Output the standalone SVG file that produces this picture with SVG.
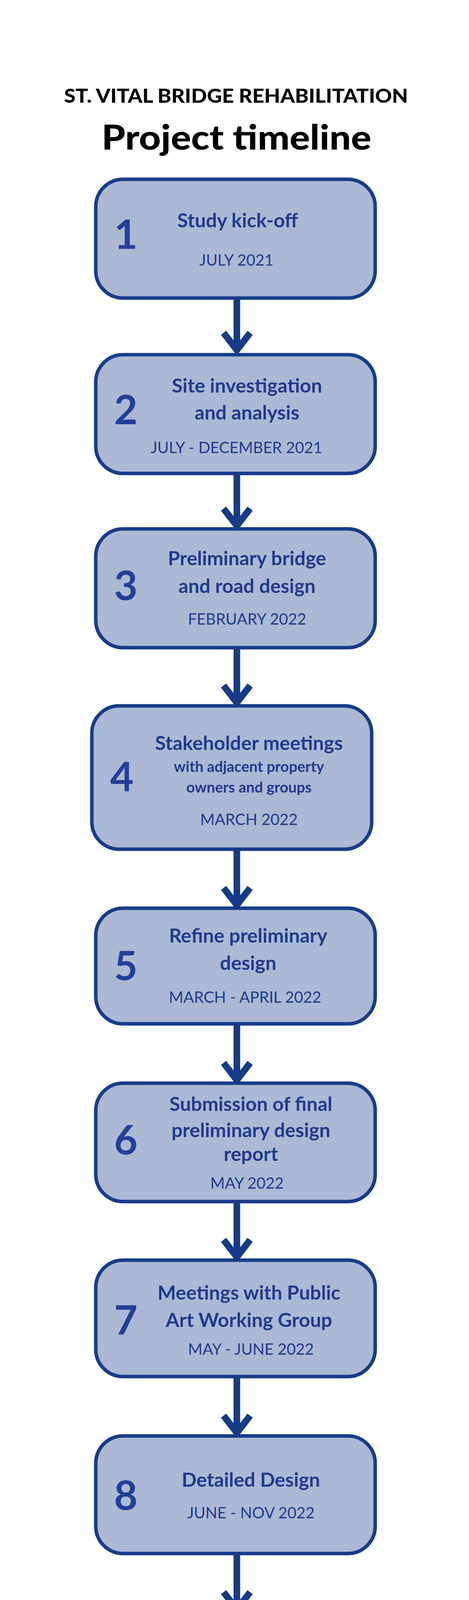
<svg xmlns="http://www.w3.org/2000/svg" width="1200" height="5100" viewBox="0 0 1200 5100">
<style>
.box{fill:#abb9d4;stroke:#173c8a;stroke-width:9}
.num{font-family:Lato,"Noto Sans",sans-serif;font-weight:700;font-size:104px;fill:#223f99;text-anchor:middle}
.t{font-family:Lato,"Noto Sans",sans-serif;font-weight:700;font-size:50px;fill:#1f3a8c;text-anchor:middle}
.s{font-family:Lato,"Noto Sans",sans-serif;font-weight:700;font-size:38px;fill:#1f3a8c;text-anchor:middle}
.d{font-family:Lato,"Noto Sans",sans-serif;font-weight:400;font-size:40px;fill:#1f3a8c;text-anchor:middle}
.n{font-family:Lato,"Noto Sans",sans-serif;font-weight:400;font-size:25px;fill:#1f3a8c}
.h{font-family:Lato,"Noto Sans",sans-serif;font-weight:900;fill:#000;text-anchor:middle}
.c{fill:none;stroke:#163b87;stroke-width:17;stroke-linejoin:miter}
</style>
<rect width="1200" height="5100" fill="#fff"/>
<text class="h" x="604" y="263" font-size="50" textLength="880" lengthAdjust="spacingAndGlyphs">ST. VITAL BRIDGE REHABILITATION</text>
<text class="h" x="605" y="383" font-size="88" textLength="690" lengthAdjust="spacingAndGlyphs">Project timeline</text>
<g id="connectors">
<path class="c" d="M606,763V900M572,852L606,896L640,852"/>
<path class="c" d="M606,1212V1350M572,1302L606,1346L640,1302"/>
<path class="c" d="M606,1658V1803M572,1755L606,1799L640,1755"/>
<path class="c" d="M606,2174V2321M572,2273L606,2317L640,2273"/>
<path class="c" d="M606,2621V2769M572,2721L606,2765L640,2721"/>
<path class="c" d="M606,3076V3222M572,3174L606,3218L640,3174"/>
<path class="c" d="M606,3524V3672M572,3624L606,3668L640,3624"/>
<path class="c" d="M606,3977V4124M572,4076L606,4120L640,4076"/>
<path class="c" d="M606,4430V4545"/>
<polygon fill="#163b87" points="571,4534 579,4522 606,4542 633,4522 641,4534 606,4571"/>
</g>
<g id="n1"><rect class="box" x="245" y="459" width="715" height="304" rx="70"/><text class="num" x="322" y="637">1</text><text class="t" x="608" y="582">Study kick-off</text><text class="d" x="605" y="680">JULY 2021</text></g>
<g id="n2"><rect class="box" x="245" y="908" width="715" height="304" rx="70"/><text class="num" x="322" y="1086">2</text><text class="t" x="632" y="1005">Site investigation</text><text class="t" x="632" y="1074">and analysis</text><text class="d" x="605" y="1160">JULY - DECEMBER 2021</text></g>
<g id="n3"><rect class="box" x="245" y="1354" width="715" height="304" rx="70"/><text class="num" x="322" y="1536">3</text><text class="t" x="632" y="1447">Preliminary bridge</text><text class="t" x="632" y="1518">and road design</text><text class="d" x="632" y="1599">FEBRUARY 2022</text></g>
<g id="n4"><rect class="box" x="235" y="1807" width="716" height="367" rx="70"/><text class="num" x="312" y="2025">4</text><text class="t" x="637" y="1920">Stakeholder meetings</text><text class="s" x="637" y="1976">with adjacent property</text><text class="s" x="637" y="2029">owners and groups</text><text class="d" x="637" y="2112">MARCH 2022</text></g>
<g id="n5"><rect class="box" x="245" y="2325" width="715" height="296" rx="70"/><text class="num" x="322" y="2509">5</text><text class="t" x="635" y="2413">Refine preliminary</text><text class="t" x="635" y="2483">design</text><text class="d" x="627" y="2567">MARCH - APRIL 2022</text></g>
<g id="n6"><rect class="box" x="245" y="2773" width="715" height="303" rx="70"/><text class="num" x="322" y="2955">6</text><text class="t" x="642" y="2844">Submission of final</text><text class="t" x="642" y="2911">preliminary design</text><text class="t" x="642" y="2972">report</text><text class="d" x="632" y="3043">MAY 2022</text></g>
<g id="n7"><rect class="box" x="245" y="3226" width="715" height="298" rx="70"/><text class="num" x="322" y="3416">7</text><text class="t" x="637" y="3327">Meetings with Public</text><text class="t" x="637" y="3397">Art Working Group</text><text class="d" x="642" y="3468">MAY - JUNE 2022</text></g>
<g id="n8"><rect class="box" x="245" y="3676" width="715" height="301" rx="70"/><text class="num" x="322" y="3865">8</text><text class="t" x="642" y="3806">Detailed Design</text><text class="d" x="642" y="3887">JUNE - NOV 2022</text></g>
<g id="n9"><rect class="box" x="245" y="4128" width="715" height="302" rx="70"/><text class="num" x="322" y="4312">9</text><text class="t" x="642" y="4224">Stakeholder</text><text class="t" x="642" y="4289">Meeting</text><text class="d" x="632" y="4368">JAN 2023</text></g>
<g id="n10"><rect x="232" y="4572" width="742" height="330" rx="70" fill="#fbb040"/><rect x="262" y="4601" width="683" height="272" rx="45" fill="#abb9d4"/><text class="num" x="350" y="4773">10</text><text class="t" x="663" y="4677">Construction</text><text class="d" x="663" y="4750">MARCH 2023 - JUNE 2025*</text><text class="n" x="414" y="4806">* Road/bridges to be complete Fall 2024.</text><text class="n" x="431" y="4839">Landscape to be complete by June 2025.</text></g>
</svg>
